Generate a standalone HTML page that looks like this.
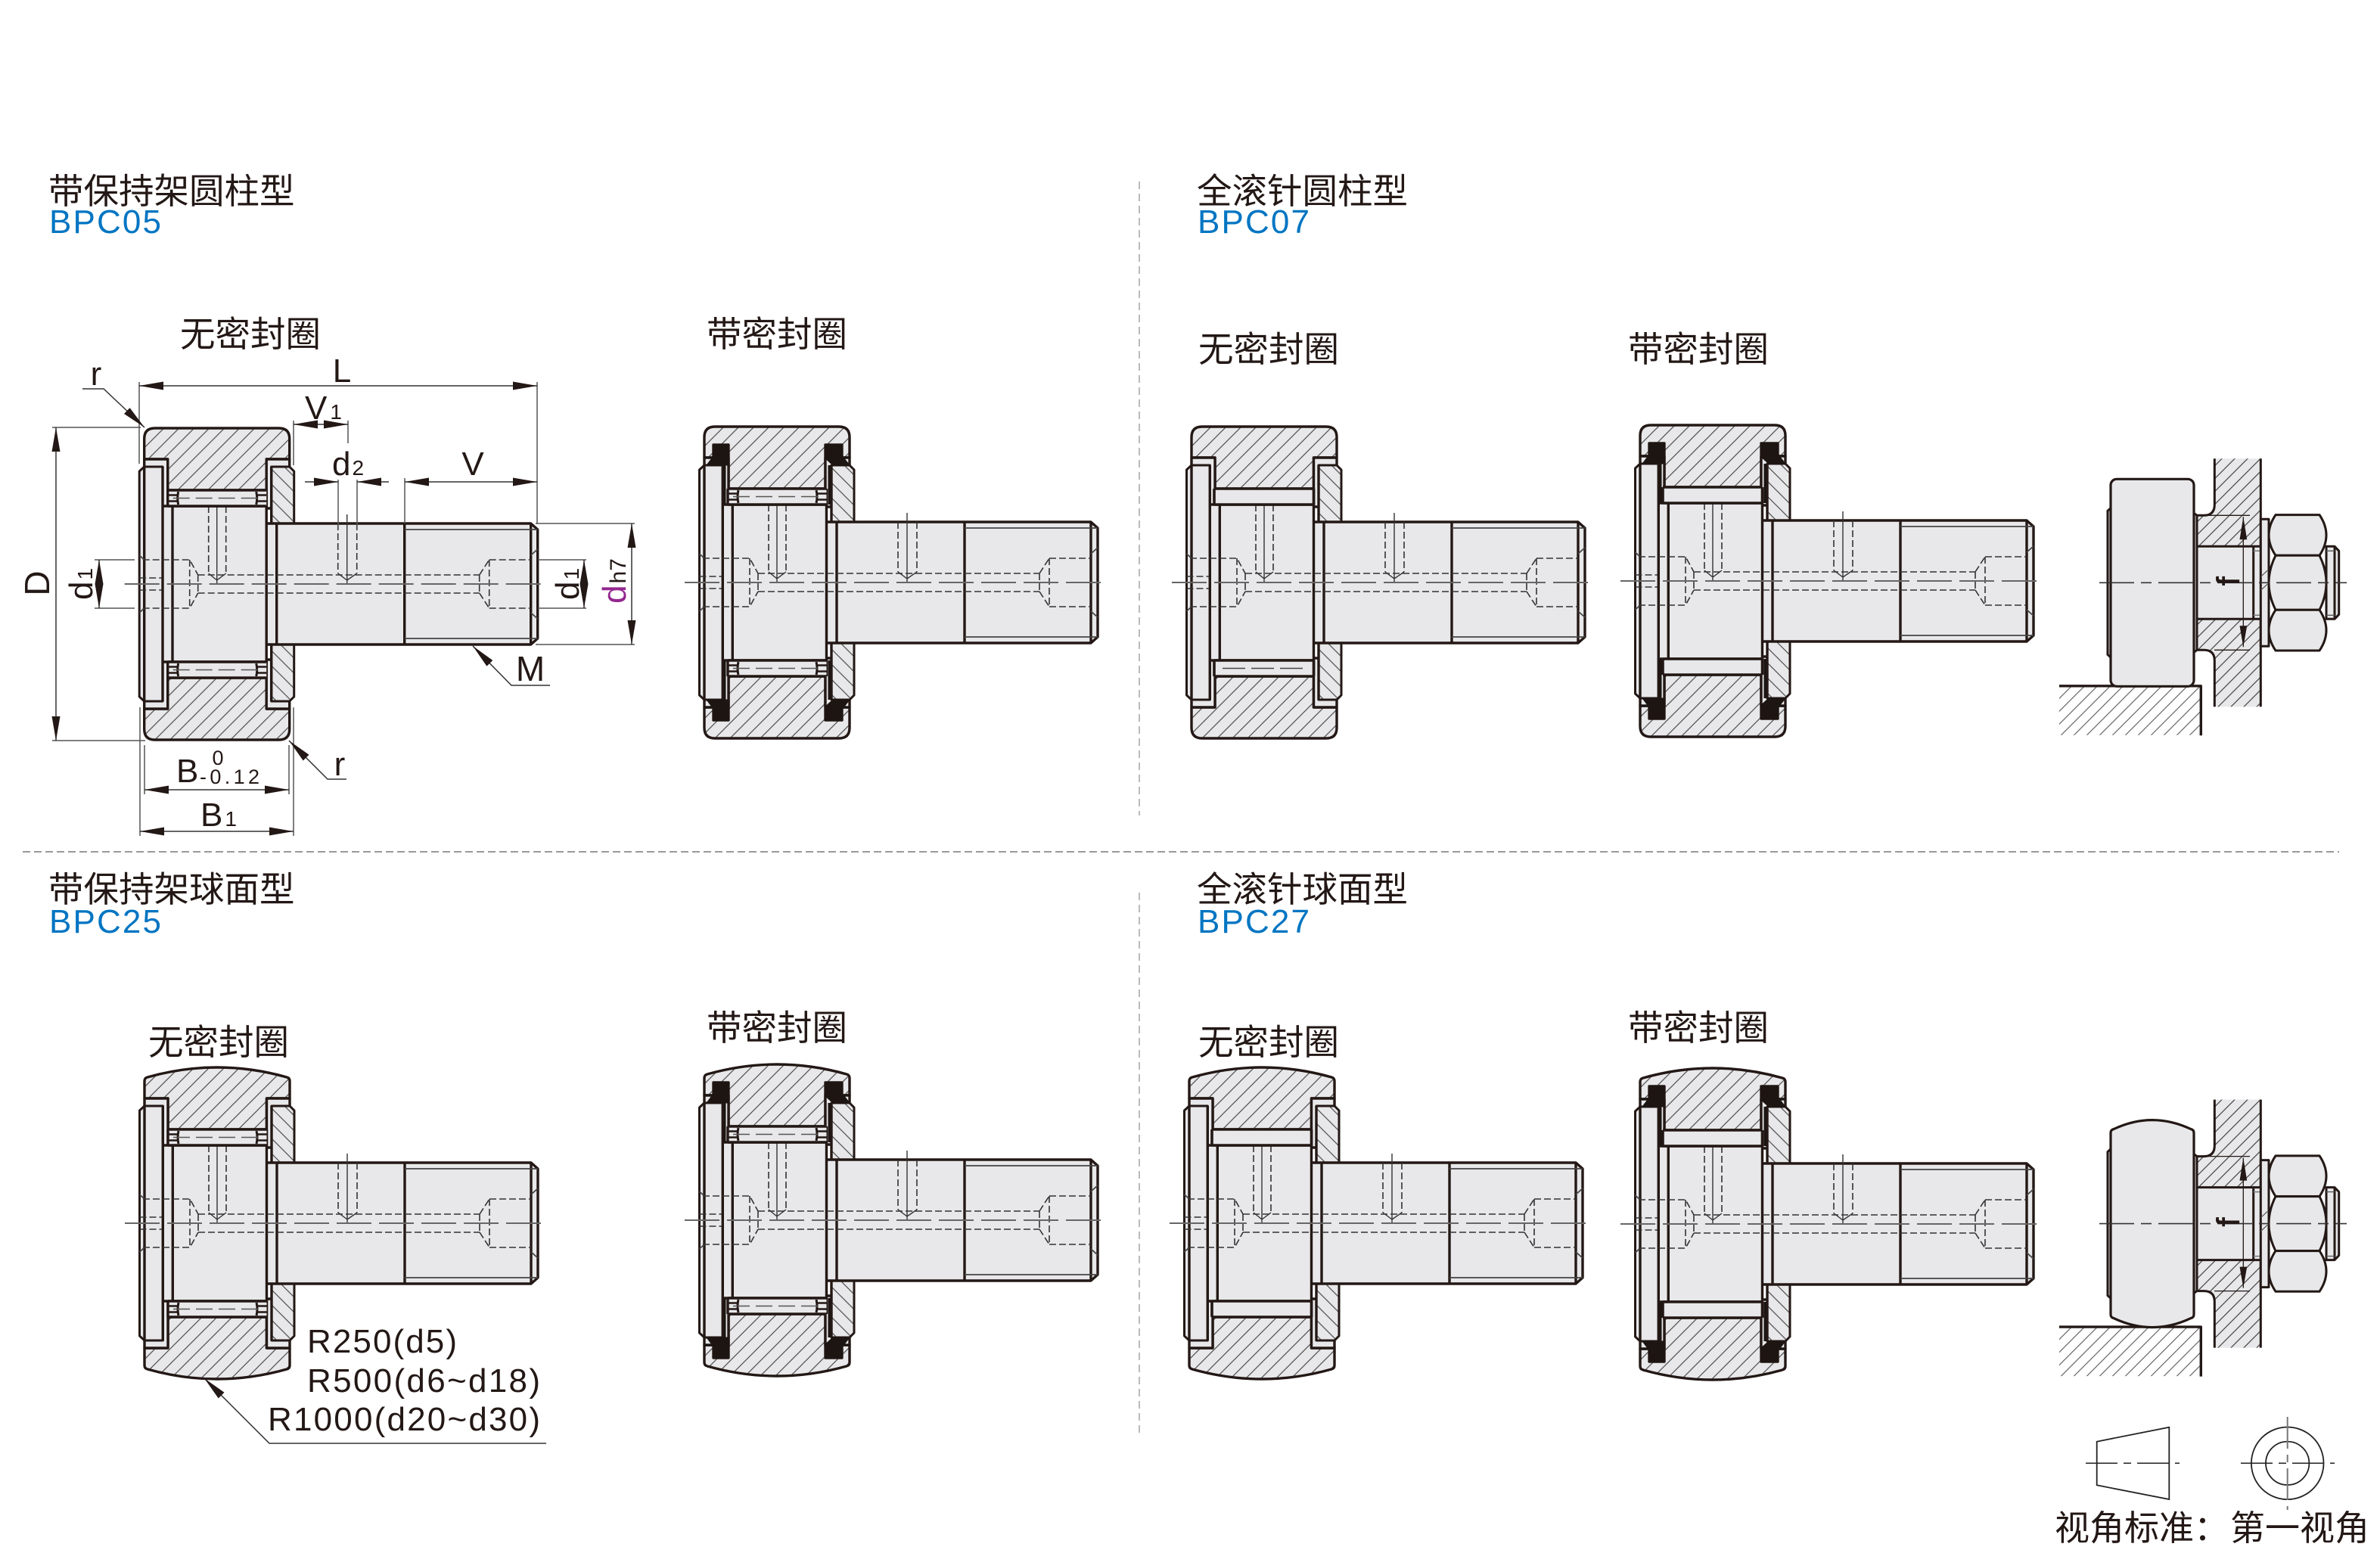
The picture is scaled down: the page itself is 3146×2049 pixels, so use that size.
<!DOCTYPE html>
<html><head><meta charset="utf-8"><style>html,body{margin:0;padding:0;background:#fff}svg{display:block}
text{font-family:"Liberation Sans","Noto Sans CJK SC",sans-serif;fill:#231815}
.cj{font-size:46.5px}.bl{fill:#0075c2;font-size:44px}.d{font-size:44px}.s{font-size:28px}.r{font-size:44px}
</style></head><body>
<svg xmlns="http://www.w3.org/2000/svg" width="3146" height="2049" viewBox="0 0 3146 2049">
<defs>
<pattern id="h1" width="20" height="20" patternUnits="userSpaceOnUse"><rect width="20" height="20" fill="#e8e8ea"/><path d="M-5,5L5,-5M0,20L20,0M15,25L25,15" stroke="#555" stroke-width="1.3"/></pattern>
<pattern id="h2" width="20" height="20" patternUnits="userSpaceOnUse"><rect width="20" height="20" fill="#e8e8ea"/><path d="M-5,15L5,25M0,0L20,20M15,-5L25,5" stroke="#555" stroke-width="1.3"/></pattern>
<pattern id="h3" width="17" height="17" patternUnits="userSpaceOnUse"><rect width="17" height="17" fill="#e8e8ea"/><path d="M-5,5L5,-5M0,17L17,0M12,22L22,12" stroke="#444" stroke-width="1.2"/></pattern>
<pattern id="h4" width="17" height="17" patternUnits="userSpaceOnUse"><path d="M-5,5L5,-5M0,17L17,0M12,22L22,12" stroke="#666" stroke-width="1.2"/></pattern>
<marker id="a" markerUnits="userSpaceOnUse" markerWidth="32" markerHeight="11" refX="32" refY="5.5" orient="auto-start-reverse"><path d="M0,0L32,5.5L0,11Z" fill="#231815"/></marker>

<g id="rc" stroke="#231815" stroke-width="3.4" stroke-linejoin="round">
<path fill="url(#h1)" d="M0,-165V-192Q0,-206 14,-206H178Q192,-206 192,-192V-165H161.5V-124H31V-165Z"/>
<path fill="url(#h1)" d="M0,165V192Q0,206 14,206H178Q192,206 192,192V165H161.5V124H31V165Z"/>
<path fill="#e8e8ea" d="M0,-165H31V-100H0ZM161.5,-165H192V-100H161.5ZM0,165H31V100H0ZM161.5,165H192V100H161.5Z"/>
</g>
<g id="rs" stroke="#231815" stroke-width="3.4" stroke-linejoin="round">
<path fill="url(#h1)" d="M0,-165V-188Q0,-192 4,-193Q96,-219 188,-193Q192,-192 192,-188V-165H161.5V-124H31V-165Z"/>
<path fill="url(#h1)" d="M0,165V188Q0,192 4,193Q96,219 188,193Q192,192 192,188V165H161.5V124H31V165Z"/>
<path fill="#e8e8ea" d="M0,-165H31V-100H0ZM161.5,-165H192V-100H161.5ZM0,165H31V100H0ZM161.5,165H192V100H161.5Z"/>
</g>
<g id="rcS" stroke="#231815" stroke-width="3.4" stroke-linejoin="round">
<path fill="url(#h1)" d="M0,-165V-192Q0,-206 14,-206H178Q192,-206 192,-192V-165H182V-182H160V-124H32V-182H12V-165Z"/>
<path fill="url(#h1)" d="M0,165V192Q0,206 14,206H178Q192,206 192,192V165H182V182H160V124H32V182H12V165Z"/>
<path fill="#e8e8ea" d="M0,-165H32V-100H0ZM160,-165H192V-100H160ZM0,165H32V100H0ZM160,165H192V100H160Z"/>
</g>
<g id="rsS" stroke="#231815" stroke-width="3.4" stroke-linejoin="round">
<path fill="url(#h1)" d="M0,-165V-188Q0,-192 4,-193Q96,-219 188,-193Q192,-192 192,-188V-165H182V-182H160V-124H32V-182H12V-165Z"/>
<path fill="url(#h1)" d="M0,165V188Q0,192 4,193Q96,219 188,193Q192,192 192,188V165H182V182H160V124H32V182H12V165Z"/>
<path fill="#e8e8ea" d="M0,-165H32V-100H0ZM160,-165H192V-100H160ZM0,165H32V100H0ZM160,165H192V100H160Z"/>
</g>

<g id="core" stroke="#231815" stroke-width="3.4" stroke-linejoin="round" fill="none">
<path fill="url(#h2)" stroke-width="3" d="M168,-155H192L198,-149V-80H168Z"/>
<path fill="url(#h2)" stroke-width="3" d="M168,80H198V149L192,155H168Z"/>
<path fill="#e8e8ea" stroke-width="3" d="M-6.5,-149L0,-155H24.3V155H0L-6.5,149Z"/>
<path fill="#e8e8ea" stroke="none" d="M24,-103H161V103H24Z"/>
<path fill="#e8e8ea" stroke="none" d="M161,-80H511L520,-72V72L511,80H161Z"/>
<path d="M0,-155V155M24.3,-155V155M37.3,-103V103M24,-103H161.5M24,103H161.5M161.5,-124V124M168,-155V-80M168,80V155"/>
<path d="M161.5,-80H511L520,-72V72L511,80H161.5M175,-80V80M344,-80V80M511,-80V80"/>
<path stroke-width="1.8" stroke="#444" d="M344,-72H511M344,72H511M511,-72H520M511,72H520M511,-38L520,-46M511,38L520,46M-6.5,-38L0,-32M-6.5,38L0,32"/>
<g stroke-width="1.6" stroke="#333" stroke-dasharray="9 4">
<path d="M-2,-32H60L71,-12M-2,32H60L71,12M60,-32V32M71,-12V12M71,-12H443M71,12H443M443,-12V12M443,-12L456,-32M443,12L456,32M456,-32V32M456,-32H511M456,32H511"/>
<path d="M-6.5,-8H23M-6.5,8H23"/>
<path d="M85,-103V-14M108,-103V-14M256,-80V-14M281,-80V-14"/>
</g>
<path stroke-width="1.4" stroke="#333" d="M85,-14L96,-5L108,-14M256,-14L268,-5L281,-14M96,-110V0M268,-92V0"/>
<path stroke-width="2" stroke="#666" stroke-dasharray="46 10" d="M-26,0H531"/>
</g>

<g id="cg1" stroke="#231815" fill="none">
<rect x="31" y="-124" width="130.5" height="21" fill="#e8e8ea" stroke="none"/>
<path stroke-width="3.4" d="M31,-124H161.5M31,-103H161.5M31,-124V-103"/>
<path stroke-width="3" d="M45,-122Q43,-113.5 45,-105M148,-122Q150,-113.5 148,-105"/>
<path stroke-width="2.4" d="M31,-117.5H44M31,-109.5H44M149,-117.5H161.5M149,-109.5H161.5"/>
<path stroke-width="1.4" stroke="#555" stroke-dasharray="22 8" d="M38,-113.5H154"/>
</g>
<g id="cage"><use href="#cg1"/><use href="#cg1" transform="scale(1,-1)"/></g>
<g id="fl1" stroke="#231815" stroke-width="3.6" fill="none">
<rect x="30" y="-124" width="131.5" height="21" fill="#e8e8ea" stroke="none"/>
<path d="M30,-124H161.5M30,-103H161.5M30,-124V-103M161.5,-124V-103"/>
</g>
<g id="full"><use href="#fl1"/><use href="#fl1" transform="scale(1,-1)"/></g>
<g id="sl1" fill="#1c1512" stroke="#1c1512" stroke-width="1">
<path d="M12,-182H32V-155H3L12,-167Z"/>
<path d="M160,-182H182V-168L192,-155H170L160,-164Z"/>
<path fill="none" stroke-width="3" d="M0,-165H12M182,-165H192M27,-155V-103M165,-155V-103"/>
</g>
<g id="seal"><use href="#sl1"/><use href="#sl1" transform="scale(1,-1)"/></g>

<g id="asm" stroke="#231815" stroke-width="3" stroke-linejoin="round" fill="none">
<path fill="url(#h4)" stroke="none" d="M-68,136.5H119.3V201.5H-68Z"/>
<path stroke-width="3.4" d="M-68,136.5H119.3V202"/>
<path fill="url(#h3)" stroke="none" d="M137.3,-164H198.3V-48H114V-89H123Q137.3,-89 137.3,-103Z"/>
<path fill="url(#h3)" stroke="none" d="M114,48H198.3V164H137.3V103Q137.3,89 123,89H114Z"/>
<path d="M137.3,-164V-103Q137.3,-89 123,-89H114M137.3,164V103Q137.3,89 123,89H114M198.3,-164V164"/>
<rect x="114" y="-48" width="84.3" height="96" fill="#e8e8ea" stroke="none"/>
<path d="M114,-48H198.3M114,48H198.3M188.7,-48V48"/>
<path stroke-width="1.5" stroke="#777" d="M188.7,-42H198M188.7,43H198"/>
<path fill="#e8e8ea" d="M110,-92L114,-89V89L110,92Z"/>
<rect x="198.3" y="-84" width="10.7" height="168" fill="#e8e8ea"/>
<path stroke-width="1.2" stroke="#555" d="M198.5,-8L207,-16M198.5,10L207,2"/>
<path fill="#e8e8ea" d="M218,-89.7H276Q294,-63 276,-36H218Q200,-63 218,-89.7Z"/>
<path fill="#e8e8ea" d="M218,-36H276Q294,0 276,36H218Q200,0 218,-36Z"/>
<path fill="#e8e8ea" d="M218,36H276Q294,63 276,89.7H218Q200,63 218,36Z"/>
<path fill="#e8e8ea" d="M285,-48H296L301.7,-42V42L296,48H285Z"/>
<path d="M296,-48V48"/>
<path stroke-width="1.4" stroke="#555" d="M285,-42H296M285,43H296"/>
<path stroke-width="1.3" d="M114,-89H184M137,89H184M175.3,-87V85"/>
<path fill="#231815" stroke="none" d="M175.3,-87L170.5,-57H180.2ZM175.3,85L170.5,57H180.2Z"/>
</g>
<path id="acl" fill="none" stroke="#333" stroke-width="1.6" stroke-dasharray="46 9 14 9" d="M-15,0H312"/>
</defs>

<rect width="3146" height="2049" fill="#fff"/>

<path fill="none" stroke="#999" stroke-width="2" stroke-dasharray="10 5" d="M30,1126H3092"/>
<path fill="none" stroke="#aaa" stroke-width="1.6" stroke-dasharray="10 6" d="M1506,240V1078M1506,1180V1896"/>

<g transform="translate(190.7,772)"><use href="#rc"/><use href="#core"/><use href="#cage"/></g>
<g transform="translate(931,770)"><use href="#rcS"/><use href="#core"/><use href="#cage"/><use href="#seal"/></g>
<g transform="translate(1575,770)"><use href="#rc"/><use href="#core"/><use href="#full"/><path stroke="#444" stroke-width="1.4" stroke-dasharray="30 8" d="M41,113.5H150"/></g>
<g transform="translate(2168,768)"><use href="#rcS"/><use href="#core"/><use href="#full"/><use href="#seal"/></g>
<g transform="translate(191,1617)"><use href="#rs"/><use href="#core"/><use href="#cage"/></g>
<g transform="translate(931,1613)"><use href="#rsS"/><use href="#core"/><use href="#cage"/><use href="#seal"/></g>
<g transform="translate(1572,1617)"><use href="#rs"/><use href="#core"/><use href="#full"/></g>
<g transform="translate(2168,1618)"><use href="#rsS"/><use href="#core"/><use href="#full"/><use href="#seal"/></g>

<g transform="translate(2790,770.3)"><use href="#asm"/>
<path fill="#e8e8ea" stroke="#231815" stroke-width="3" d="M0,-98.7L-4,-95V95L0,98.7Z"/>
<rect x="0" y="-137" width="110" height="274" rx="8" fill="#e8e8ea" stroke="#231815" stroke-width="3.2"/>
<use href="#acl"/>
<text transform="translate(170,-2) rotate(-90)" font-size="42" text-anchor="middle" stroke="#231815" stroke-width="1" style="font-family:'Liberation Sans',sans-serif">f</text></g>
<g transform="translate(2790,1617.6)"><use href="#asm"/>
<path fill="#e8e8ea" stroke="#231815" stroke-width="3" d="M0,-98.7L-4,-95V95L0,98.7Z"/>
<path fill="#e8e8ea" stroke="#231815" stroke-width="3.2" stroke-linejoin="round" d="M0,-120Q0,-124 4,-125Q55,-149 106,-125Q110,-124 110,-120V120Q110,124 106,125Q55,149 4,125Q0,124 0,120Z"/>
<use href="#acl"/>
<text transform="translate(170,-2) rotate(-90)" font-size="42" text-anchor="middle" stroke="#231815" stroke-width="1" style="font-family:'Liberation Sans',sans-serif">f</text></g>

<!-- dimensions on first figure -->
<g fill="none" stroke="#555" stroke-width="1.5">
<path d="M184,505V613M710,505V692M388,556V615M460,556V586M447,634V700M472,634V700M535,632V692"/>
<path d="M69,565H186M69,979H192M125,740H178M125,804H178M711,740H775M711,804H775M708,692H839M708,852H839"/>
<path d="M191,985V1050M382,985V1050M185,935V1105M388,935V1105"/>
</g>
<g fill="none" stroke="#333" stroke-width="1.5">
<path marker-start="url(#a)" marker-end="url(#a)" d="M184,510H710"/>
<path marker-start="url(#a)" marker-end="url(#a)" d="M388,561H460"/>
<path marker-end="url(#a)" d="M403,637H447"/><path marker-end="url(#a)" d="M514,637H472"/>
<path marker-start="url(#a)" marker-end="url(#a)" d="M535,637H710"/>
<path marker-start="url(#a)" marker-end="url(#a)" d="M74,565V979"/>
<path marker-start="url(#a)" marker-end="url(#a)" d="M131,740V804"/>
<path marker-start="url(#a)" marker-end="url(#a)" d="M772,740V804"/>
<path marker-start="url(#a)" marker-end="url(#a)" d="M835,692V852"/>
<path marker-start="url(#a)" marker-end="url(#a)" d="M191,1044H382"/>
<path marker-start="url(#a)" marker-end="url(#a)" d="M185,1099H388"/>
<path marker-end="url(#a)" d="M109,514H137L191,565"/>
<path marker-end="url(#a)" d="M458,1030H433L382,979"/>
<path marker-end="url(#a)" d="M727,906H676L625,854"/>
<path marker-end="url(#a)" d="M722,1908H356L270,1822"/>
</g>

<text class="d" x="452" y="505" text-anchor="middle">L</text>
<text class="d" x="127" y="509" text-anchor="middle">r</text>
<text class="d" x="403" y="554">V<tspan class="s" dx="4">1</tspan></text>
<text class="d" x="439" y="628">d<tspan class="s" dx="2">2</tspan></text>
<text class="d" x="625" y="628" text-anchor="middle">V</text>
<text x="701" y="900" text-anchor="middle" font-size="46">M</text>
<text class="d" x="449" y="1025" text-anchor="middle">r</text>
<text class="d" x="233" y="1034">B</text>
<text x="288" y="1011" font-size="27" text-anchor="middle">0</text>
<text x="264" y="1036" font-size="27" textLength="79">-0.12</text>
<text class="d" x="265" y="1092">B<tspan class="s" dx="3">1</tspan></text>
<text transform="translate(65,771) rotate(-90)" text-anchor="middle" font-size="46">D</text>
<text class="d" transform="translate(122,772) rotate(-90)" text-anchor="middle">d<tspan class="s" dx="2">1</tspan></text>
<text class="d" transform="translate(765,772) rotate(-90)" text-anchor="middle">d<tspan class="s" dx="2">1</tspan></text>
<text class="d" transform="translate(827,768) rotate(-90)" text-anchor="middle" font-size="46"><tspan style="fill:#93278f">d</tspan><tspan font-size="30" dx="2">h7</tspan></text>

<text class="r" x="406" y="1788" textLength="198">R250(d5)</text>
<text class="r" x="406" y="1840" textLength="308">R500(d6~d18)</text>
<text class="r" x="354" y="1891" textLength="360">R1000(d20~d30)</text>

<text class="cj" x="64" y="269">带保持架圆柱型</text>
<text class="bl" x="65" y="308" textLength="148">BPC05</text>
<text class="cj" x="1582" y="269">全滚针圆柱型</text>
<text class="bl" x="1583" y="308" textLength="148">BPC07</text>
<text class="cj" x="64" y="1192">带保持架球面型</text>
<text class="bl" x="65" y="1233" textLength="148">BPC25</text>
<text class="cj" x="1582" y="1192">全滚针球面型</text>
<text class="bl" x="1583" y="1233" textLength="148">BPC27</text>

<text class="cj" x="238" y="458">无密封圈</text>
<text class="cj" x="934" y="458">带密封圈</text>
<text class="cj" x="1584" y="478">无密封圈</text>
<text class="cj" x="2152" y="478">带密封圈</text>
<text class="cj" x="196" y="1394">无密封圈</text>
<text class="cj" x="934" y="1375">带密封圈</text>
<text class="cj" x="1584" y="1394">无密封圈</text>
<text class="cj" x="2152" y="1375">带密封圈</text>

<g fill="none" stroke="#222" stroke-width="1.8">
<path d="M2771.7,1905.7L2867.3,1886.7V1982L2771.7,1963.3Z"/>
<circle cx="3023.7" cy="1934.3" r="47.8"/><circle cx="3023.7" cy="1934.3" r="28.7"/>
<path stroke-width="1.5" stroke-dasharray="42 8 10 8" d="M2757,1934.3H2881M2962,1934.3H3086"/>
<path stroke-width="2" stroke="#777" stroke-dasharray="42 8 10 8" d="M3023.7,1873V1996"/>
</g>
<text x="2716" y="2036" font-size="46">视角标准：</text>
<text x="2948" y="2036" font-size="46">第一视角</text>
</svg>
</body></html>
